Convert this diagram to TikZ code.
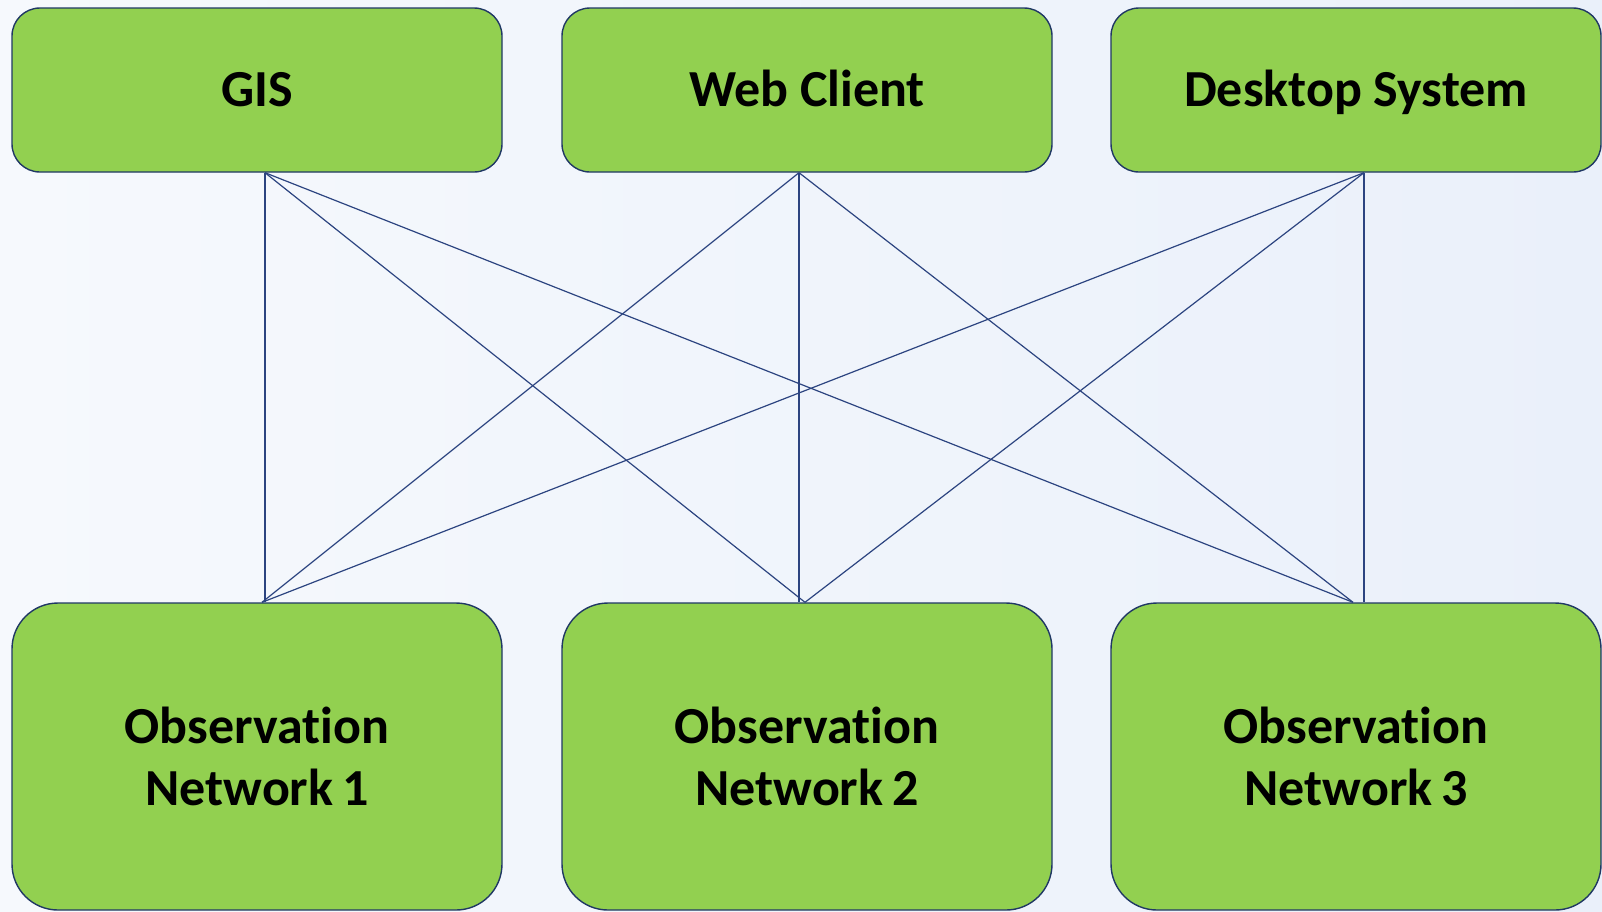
\documentclass[tikz,border=0pt]{standalone}
\usepackage{fontspec}
\setmainfont{Carlito}[Ligatures=NoCommon]
\usetikzlibrary{calc}
\definecolor{boxgreen}{HTML}{92D050}
\definecolor{navy}{HTML}{203864}
\definecolor{lineblue}{HTML}{2C4480}
\definecolor{bgA}{HTML}{F6F9FD}
\definecolor{bgB}{HTML}{EAF0FA}
\tikzset{
  topbox/.style={draw=navy, line width=1.4pt, fill=boxgreen, rounded corners=28pt,
    minimum width=490pt, minimum height=164pt, inner sep=0pt,
    font=\fontsize{52}{62}\selectfont\bfseries, align=center},
  toptext/.style={text height=33.5pt, text depth=0pt},
  botbox/.style={topbox, rounded corners=46pt, minimum height=307pt},
  link/.style={draw=lineblue, line width=1.2pt}
}
\begin{document}
\begin{tikzpicture}[x=1pt,y=-1pt]
\shade[left color=bgA, right color=bgB] (0,0) rectangle (1602,911);
\useasboundingbox (0,0) rectangle (1602,911);
\node[topbox, toptext] (gis) at (257,90) {GIS};
\node[topbox, toptext] (web) at (807,90) {Web Client};
\node[topbox, toptext] (desk) at (1356,90) {Desktop System};
\node[botbox] (n1) at (257,756.5) {Observation\\Network\,1};
\node[botbox] (n2) at (807,756.5) {Observation\\Network\,2};
\node[botbox] (n3) at (1356,756.5) {Observation\\Network\,3};
\coordinate (gA) at ([xshift=8pt]gis.south);
\coordinate (wA) at ([xshift=-8pt]web.south);
\coordinate (dA) at ([xshift=8pt]desk.south);
\coordinate (n1B) at ([xshift=5pt]n1.north);
\coordinate (n2B) at ([xshift=-2pt]n2.north);
\coordinate (n3B) at ([xshift=-3pt]n3.north);
\draw[link] (gA) -- (gA |- n1.north);
\draw[link] (wA) -- (wA |- n2.north);
\draw[link] (dA) -- (dA |- n3.north);
\draw[link] (gA) -- (n2B);
\draw[link] (gA) -- (n3B);
\draw[link] (wA) -- (n1B);
\draw[link] (wA) -- (n3B);
\draw[link] (dA) -- (n1B);
\draw[link] (dA) -- (n2B);
\end{tikzpicture}
\end{document}
